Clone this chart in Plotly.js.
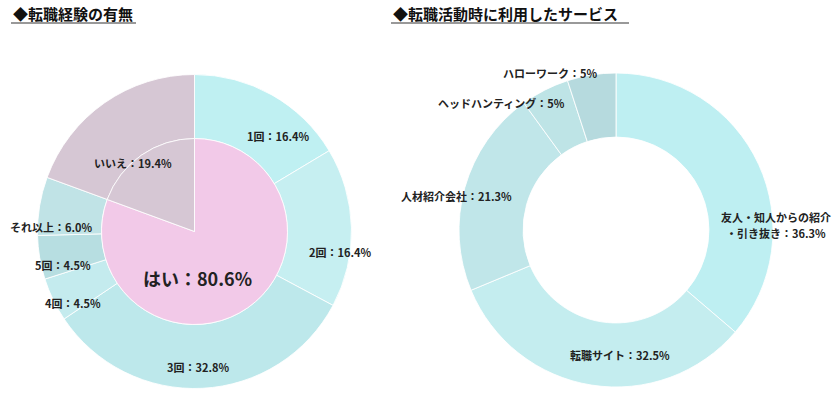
<!DOCTYPE html>
<html><head><meta charset="utf-8">
<script src="https://cdn.plot.ly/plotly-3.0.1.min.js"></script>
<style>html,body{margin:0;padding:0;background:#fff}</style>
</head><body><div id="chart" style="width:840px;height:396px"></div>
<script>
// ---- Data ----
const innerLabels = ["はい", "いいえ"];
const innerValues = [80.6, 19.4];
const outerLabels = ["1回", "2回", "3回", "4回", "5回", "それ以上", "いいえ"];
const outerValues = [16.4, 16.4, 32.8, 4.5, 4.5, 6.0, 19.4];
const serviceLabels = ["友人・知人からの紹介<br>・引き抜き", "転職サイト", "人材紹介会社", "ヘッドハンティング", "ハローワーク"];
const serviceValues = [36.3, 32.5, 21.3, 5, 5];
const titleLeft = "◆転職経験の有無";
const titleRight = "◆転職活動時に利用したサービス";

// ---- Styles ----
const W = 840, H = 396;
const px = x => x / W, py = y => 1 - y / H;
const innerColors = ["#f2c9e8", "#d6c7d4"];
const outerColors = ["#bff0f2", "#c6eff1", "#bde8eb", "#c4ebee", "#b7dee1", "#c0e3e6", "#d6c7d4"];
const serviceColors = ["#beeff2", "#c4edef", "#c0e6e9", "#bee4e6", "#b6dade"];
const font = "'Noto Sans CJK JP', 'Noto Sans', sans-serif";
const lineW = {color: "rgba(255,255,255,0.85)", width: 1};

const traces = [
  {type: "pie", labels: outerLabels, values: outerValues, sort: false, direction: "clockwise", rotation: 0,
   hole: 0.592, marker: {colors: outerColors, line: lineW}, textinfo: "none", hoverinfo: "label+value",
   domain: {x: [px(37.5), px(351.5)], y: [py(388.5), py(74.5)]}, showlegend: false},
  {type: "pie", labels: innerLabels, values: innerValues, sort: false, direction: "clockwise", rotation: 0,
   marker: {colors: innerColors, line: lineW}, textinfo: "none", hoverinfo: "label+value",
   domain: {x: [px(101.5), px(287.5)], y: [py(324.5), py(138.5)]}, showlegend: false},
  {type: "pie", labels: serviceLabels, values: serviceValues, sort: false, direction: "clockwise", rotation: 0,
   hole: 0.592, marker: {colors: serviceColors, line: lineW}, textinfo: "none", hoverinfo: "label+value",
   domain: {x: [px(459), px(773)], y: [py(387), py(73)]}, showlegend: false}
];

// label positions (pixel centres), in data order
const outerPos = [[278, 136], [340, 252], [198, 367], [73, 303], [63, 265], [51, 227]];
const innerPos = [[197, 278], [133, 163]];
const servicePos = [[776, 225], [620, 355], [457, 196], [501, 103], [550, 73]];
const lineGap = 16;

const ann = [];
const addText = (t, p, size) => ann.push({xref: "paper", yref: "paper", x: px(p[0]), y: py(p[1]),
  xanchor: "center", yanchor: "middle", showarrow: false, align: "center",
  text: "<b>" + t + "</b>", font: {family: font, size: size || 11, color: "#222"}});
const fmt = v => Number.isInteger(v) ? String(v) : v.toFixed(1);
outerPos.forEach((p, i) => addText(outerLabels[i] + "：" + outerValues[i].toFixed(1) + "%", p));
addText(innerLabels[0] + "：" + innerValues[0].toFixed(1) + "%", innerPos[0], 18);
addText(innerLabels[1] + "：" + innerValues[1].toFixed(1) + "%", innerPos[1]);
servicePos.forEach((p, i) => {
  const lines = (serviceLabels[i] + "：" + fmt(serviceValues[i]) + "%").split("<br>");
  const top = p[1] - (lines.length - 1) * lineGap / 2;
  lines.forEach((ln, k) => addText(ln, [p[0], top + k * lineGap]));
});
ann.push({xref: "paper", yref: "paper", x: px(11), y: py(13), xanchor: "left", yanchor: "middle", showarrow: false,
  text: "<b>" + titleLeft + "</b>", font: {family: font, size: 15, color: "#111"}});
ann.push({xref: "paper", yref: "paper", x: px(391), y: py(13), xanchor: "left", yanchor: "middle", showarrow: false,
  text: "<b>" + titleRight + "</b>", font: {family: font, size: 15, color: "#111"}});

const shapes = [
  {type: "line", xref: "paper", yref: "paper", x0: px(11), x1: px(136), y0: py(23), y1: py(23), line: {color: "#999", width: 2}},
  {type: "line", xref: "paper", yref: "paper", x0: px(391), x1: px(629), y0: py(23), y1: py(23), line: {color: "#999", width: 2}}
];

Plotly.newPlot("chart", traces, {
  width: W, height: H, margin: {l: 0, r: 0, t: 0, b: 0},
  paper_bgcolor: "#fff", annotations: ann, shapes: shapes, font: {family: font}
}, {displayModeBar: false, staticPlot: true});
</script></body></html>
